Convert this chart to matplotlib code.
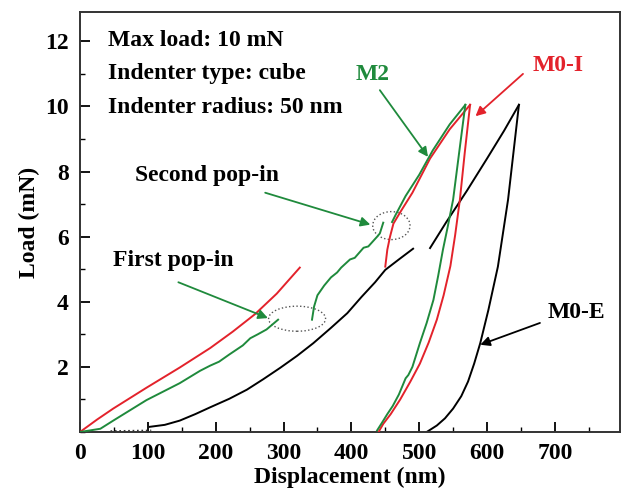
import matplotlib
matplotlib.use('Agg')
import matplotlib.pyplot as plt
from matplotlib.patches import Ellipse
from matplotlib.ticker import MultipleLocator

# M0-I (red)
red_load1_x = [0, 25, 49, 98, 147, 192, 225, 258, 290, 324]
red_load1_y = [0, 0.38, 0.72, 1.36, 1.98, 2.58, 3.08, 3.62, 4.25, 5.05]
red_load2_x = [450, 453, 457, 462, 472, 490, 516, 545, 575]
red_load2_y = [5.08, 5.6, 6.0, 6.4, 6.75, 7.35, 8.4, 9.3, 10.05]
red_unload_x = [575, 567, 560, 553, 546, 536, 526, 514, 501, 487, 472, 458, 447, 440]
red_unload_y = [10.05, 8.55, 7.14, 6.05, 5.1, 4.2, 3.45, 2.75, 2.1, 1.55, 1.0, 0.55, 0.25, 0.0]

# M2 (green)
grn_load1_x = [0, 30, 49, 98, 147, 177, 192, 205, 220, 240, 251, 262, 275, 292]
grn_load1_y = [0, 0.1, 0.35, 0.98, 1.5, 1.88, 2.04, 2.16, 2.38, 2.66, 2.88, 3.0, 3.15, 3.45]
grn_load2_x = [342, 345, 350, 360, 370, 379, 385, 398, 405, 418, 425, 438, 442, 447]
grn_load2_y = [3.45, 3.85, 4.2, 4.5, 4.75, 4.9, 5.05, 5.3, 5.35, 5.66, 5.7, 6.0, 6.1, 6.43]
grn_load3_x = [460, 466, 480, 500, 520, 545, 568]
grn_load3_y = [6.45, 6.7, 7.25, 7.9, 8.65, 9.45, 10.05]
grn_unload_x = [568, 559, 550, 542, 535, 528, 521, 511, 501, 490, 484, 480, 476, 470, 461, 453, 445, 438]
grn_unload_y = [10.05, 8.6, 7.14, 6.3, 5.6, 4.8, 4.06, 3.35, 2.73, 2.0, 1.75, 1.65, 1.45, 1.15, 0.8, 0.55, 0.28, 0.05]

# M0-E (black)
blk_tail_x = [45, 105]
blk_tail_y = [0.03, 0.05]
blk_load1_x = [103, 125, 147, 170, 192, 220, 246, 270, 295, 320, 344, 370, 394, 415, 435, 450, 470, 491]
blk_load1_y = [0.16, 0.22, 0.35, 0.55, 0.76, 1.02, 1.3, 1.62, 1.97, 2.34, 2.73, 3.2, 3.65, 4.15, 4.6, 4.98, 5.3, 5.63]
blk_load2_x = [516, 540, 570, 600, 625, 647]
blk_load2_y = [5.65, 6.45, 7.4, 8.4, 9.25, 10.05]
blk_unload_x = [647, 631, 616, 602, 590, 581, 572, 562, 550, 538, 526, 511]
blk_unload_y = [10.05, 7.14, 5.08, 3.75, 2.73, 2.1, 1.55, 1.1, 0.72, 0.42, 0.2, 0.0]

RED = '#e3222b'
GRN = '#1f8a3c'

plt.rcParams['font.family'] = ['Liberation Serif', 'DejaVu Serif']
plt.rcParams['font.weight'] = 'bold'

fig = plt.figure(figsize=(6.22, 5.01), dpi=100)
ax = fig.add_axes([0.1286, 0.1377, 0.8682, 0.8383])

lw = 1.4
for xs, ys in [(red_load1_x, red_load1_y), (red_load2_x, red_load2_y), (red_unload_x, red_unload_y)]:
    ax.plot(xs, ys, color=RED, lw=lw, zorder=3)
for xs, ys in [(grn_load1_x, grn_load1_y), (grn_load2_x, grn_load2_y),
               (grn_load3_x, grn_load3_y), (grn_unload_x, grn_unload_y)]:
    ax.plot(xs, ys, color=GRN, lw=lw, zorder=4)
ax.plot(blk_tail_x, blk_tail_y, color='#333333', lw=1.2, ls=':', zorder=2)
for xs, ys in [(blk_load1_x, blk_load1_y), (blk_load2_x, blk_load2_y), (blk_unload_x, blk_unload_y)]:
    ax.plot(xs, ys, color='black', lw=lw, zorder=2)

# pop-in circles
ax.add_patch(Ellipse((320, 3.48), 84, 0.77, fill=False, ls=':', lw=1.0, ec='#555555'))
ax.add_patch(Ellipse((459, 6.34), 55, 0.86, fill=False, ls=':', lw=1.0, ec='#555555'))

fs = 17
ax.text(41, 11.85, 'Max load: 10 mN', fontsize=fs, fontweight='bold')
ax.text(41, 10.85, 'Indenter type: cube', fontsize=fs, fontweight='bold')
ax.text(41, 9.8, 'Indenter radius: 50 nm', fontsize=fs, fontweight='bold')

arw = dict(arrowstyle='-|>', lw=1.3, mutation_scale=14, shrinkA=0, shrinkB=0)
ax.text(81, 7.7, 'Second pop-in', fontsize=fs, fontweight='bold')
ax.annotate('', xy=(428, 6.37), xytext=(273, 7.35), arrowprops=dict(arw, color=GRN))
ax.text(49, 5.1, 'First pop-in', fontsize=fs, fontweight='bold')
ax.annotate('', xy=(277, 3.5), xytext=(145, 4.6), arrowprops=dict(arw, color=GRN))
ax.text(406, 10.8, 'M2', fontsize=fs, fontweight='bold', color=GRN)
ax.annotate('', xy=(513, 8.45), xytext=(442, 10.5), arrowprops=dict(arw, color=GRN))
ax.text(667, 11.1, 'M0-I', fontsize=fs, fontweight='bold', color=RED)
ax.annotate('', xy=(583, 9.7), xytext=(653, 11.0), arrowprops=dict(arw, color=RED))
ax.text(690, 3.5, 'M0-E', fontsize=fs, fontweight='bold', color='black')
ax.annotate('', xy=(590, 2.68), xytext=(678, 3.35), arrowprops=dict(arw, color='black'))

ax.set_xlim(0, 796)
ax.set_ylim(0, 12.9)
ax.set_xticks([0, 100, 200, 300, 400, 500, 600, 700])
ax.set_yticks([2, 4, 6, 8, 10, 12])
ax.xaxis.set_minor_locator(MultipleLocator(50))
ax.yaxis.set_minor_locator(MultipleLocator(1))
ax.tick_params(which='major', direction='in', length=7, width=1.3, labelsize=fs, pad=8)
ax.tick_params(which='minor', direction='in', length=3.5, width=1.0)
for lab in ax.get_xticklabels() + ax.get_yticklabels():
    lab.set_fontweight('bold')
for sp in ax.spines.values():
    sp.set_linewidth(1.4)
    sp.set_color('#333333')

ax.set_xlabel('Displacement (nm)', fontsize=fs, fontweight='bold', labelpad=2)
ax.set_ylabel('Load (mN)', fontsize=fs, fontweight='bold', labelpad=4)

plt.savefig('out.png', dpi=100)
